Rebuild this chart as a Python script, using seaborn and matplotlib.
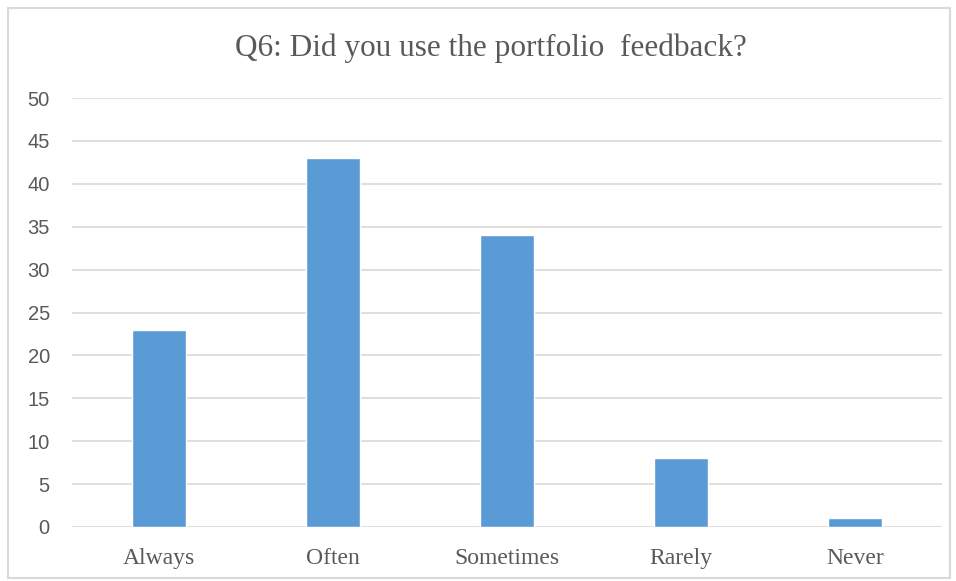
import matplotlib
matplotlib.use("Agg")
import matplotlib.pyplot as plt
import seaborn as sns
import pandas as pd
from matplotlib.patches import Rectangle

categories = ["Always", "Often", "Sometimes", "Rarely", "Never"]
values = [23, 43, 34, 8, 1]
yticks = [0, 5, 10, 15, 20, 25, 30, 35, 40, 45, 50]

df = pd.DataFrame({"cat": categories, "val": values})

sns.set_theme(style="white")
fig = plt.figure(figsize=(9.56, 5.81), dpi=100)
ax = fig.add_axes([72/956, 54/581, 870/956, 429/581])

sns.barplot(data=df, x="cat", y="val", color="#5B9BD5", width=0.31,
            saturation=1, ax=ax, zorder=3)

ax.set_ylim(0, 50)
ax.set_xlim(-0.5, 4.5)
ax.set_yticks(yticks)
ax.yaxis.grid(True, color="#D9D9D9", linewidth=1.2, zorder=0)
ax.set_axisbelow(True)
for s in ax.spines.values():
    s.set_visible(False)
ax.set_xlabel("")
ax.set_ylabel("")
ax.tick_params(axis="both", length=0)
ax.tick_params(axis="y", pad=16, labelsize=14.5, labelcolor="#595959")
ax.tick_params(axis="x", pad=15, labelsize=17, labelcolor="#595959")
for lab in ax.get_yticklabels():
    lab.set_fontfamily(["Liberation Sans", "DejaVu Sans"])
for lab in ax.get_xticklabels():
    lab.set_fontfamily(["Liberation Serif", "DejaVu Serif"])

fig.text(491/956, 1 - 48/581, "Q6: Did you use the portfolio  feedback?",
         ha="center", va="center", fontsize=22.5, color="#595959",
         family=["Liberation Serif", "DejaVu Serif"])

fig.patches.append(Rectangle((8/956, 3/581), 942/956, 570/581,
                             transform=fig.transFigure, fill=False,
                             edgecolor="#D9D9D9", linewidth=1.5))

fig.savefig("out.png", dpi=100, facecolor="white")
